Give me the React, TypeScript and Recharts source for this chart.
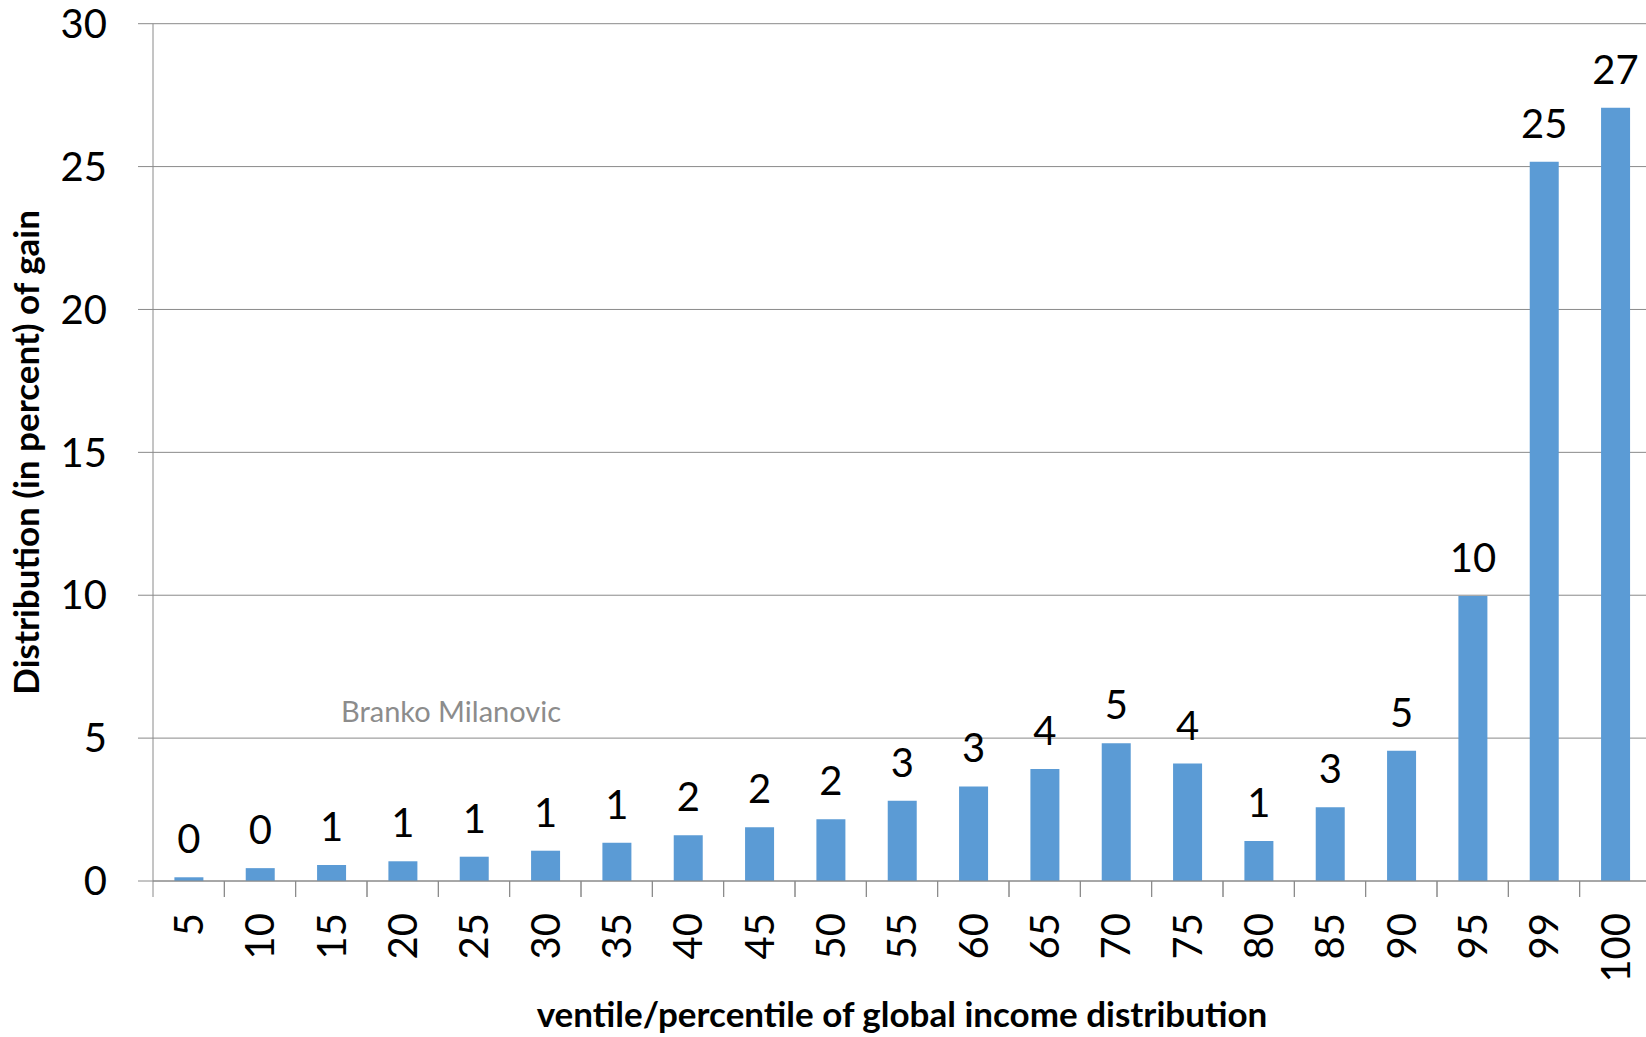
import React from 'react';
import { BarChart, Bar, XAxis, YAxis, CartesianGrid, LabelList, Label } from 'recharts';

const categories = ['5', '10', '15', '20', '25', '30', '35', '40', '45', '50', '55', '60', '65', '70', '75', '80', '85', '90', '95', '99', '100'];
const values = [0.13, 0.45, 0.56, 0.69, 0.85, 1.06, 1.34, 1.6, 1.88, 2.16, 2.81, 3.31, 3.92, 4.82, 4.11, 1.4, 2.58, 4.56, 9.97, 25.17, 27.06];
const valueLabels = [0, 0, 1, 1, 1, 1, 1, 2, 2, 2, 3, 3, 4, 5, 4, 1, 3, 5, 10, 25, 27];
const yTicks = [0, 5, 10, 15, 20, 25, 30];

const yTitle = 'Distribution (in percent) of gain';
const xTitle = 'ventile/percentile of global income distribution';
const watermark = 'Branko Milanovic';

const data = categories.map((c, i) => ({ cat: c, value: values[i], label: valueLabels[i] }));

const FONT = 'Lato, "Open Sans", sans-serif';
const GRID = '#8a8a8a';
const BAR = '#5B9BD5';
const X_TICK_SIZE = 16;
const X_TICK_MARGIN = 16;

const XTick = (props: any) => {
  const { x, y, payload, width } = props;
  const half = payload && payload.offset ? payload.offset : (width || 1498) / categories.length / 2;
  const axisY = y - X_TICK_SIZE - X_TICK_MARGIN;
  return (
    <g>
      <line x1={x - half} x2={x - half} y1={axisY} y2={axisY + X_TICK_SIZE} stroke={GRID} strokeWidth={1} />
      <line x1={x + half} x2={x + half} y1={axisY} y2={axisY + X_TICK_SIZE} stroke={GRID} strokeWidth={1} />
      <g transform={`translate(${x},${y})`}>
        <text transform="rotate(-90)" textAnchor="end" dy="0.355em" fontSize={40} fill="#000" fontFamily={FONT}>
          {payload.value}
        </text>
      </g>
    </g>
  );
};

const XTitle = (props: any) => {
  const vb = props.viewBox || {};
  const cx = vb.x + vb.width / 2;
  return (
    <g>
      <text x={cx} y={vb.y + 146} textAnchor="middle" fontWeight="bold" fontSize={35} fill="#000" fontFamily={FONT}>
        {xTitle}
      </text>
      <text x={341} y={722} textAnchor="start" fontSize={29} fill="#8c8c8c" fontFamily={FONT}>
        {watermark}
      </text>
    </g>
  );
};

const YTitle = (props: any) => {
  const vb = props.viewBox || {};
  const cy = vb.y + vb.height / 2;
  const cx = 39;
  return (
    <text x={cx} y={cy} transform={`rotate(-90, ${cx}, ${cy})`} textAnchor="middle" fontWeight="bold" fontSize={35} fill="#000" fontFamily={FONT}>
      {yTitle}
    </text>
  );
};

export default function App() {
  return (
    <div style={{ position: 'fixed', left: 0, top: 0, width: 1646, height: 1037, overflow: 'hidden', background: '#fff', fontFamily: FONT }}>
      <BarChart width={1651} height={1037} data={data} margin={{ top: 23.7, right: 0, bottom: 0, left: 0 }} barCategoryGap="30%">
        <CartesianGrid horizontal vertical={false} stroke={GRID} strokeWidth={1} />
        <XAxis
          dataKey="cat"
          type="category"
          height={156}
          tickLine={false}
          axisLine={{ stroke: GRID, strokeWidth: 1 }}
          tickSize={X_TICK_SIZE}
          tickMargin={X_TICK_MARGIN}
          tick={<XTick />}
          interval={0}
        >
          <Label content={<XTitle />} />
        </XAxis>
        <YAxis
          domain={[0, 30]}
          ticks={yTicks}
          width={153}
          tickSize={15}
          tickMargin={31}
          axisLine={{ stroke: GRID, strokeWidth: 1 }}
          tickLine={{ stroke: GRID, strokeWidth: 1 }}
          tick={{ fontSize: 40, fill: '#000', fontFamily: FONT }}
          interval={0}
        >
          <Label content={<YTitle />} />
        </YAxis>
        <Bar dataKey="value" fill={BAR} isAnimationActive={false}>
          <LabelList dataKey="label" position="top" offset={24} fill="#000" fontSize={40} fontFamily={FONT} />
        </Bar>
      </BarChart>
    </div>
  );
}
